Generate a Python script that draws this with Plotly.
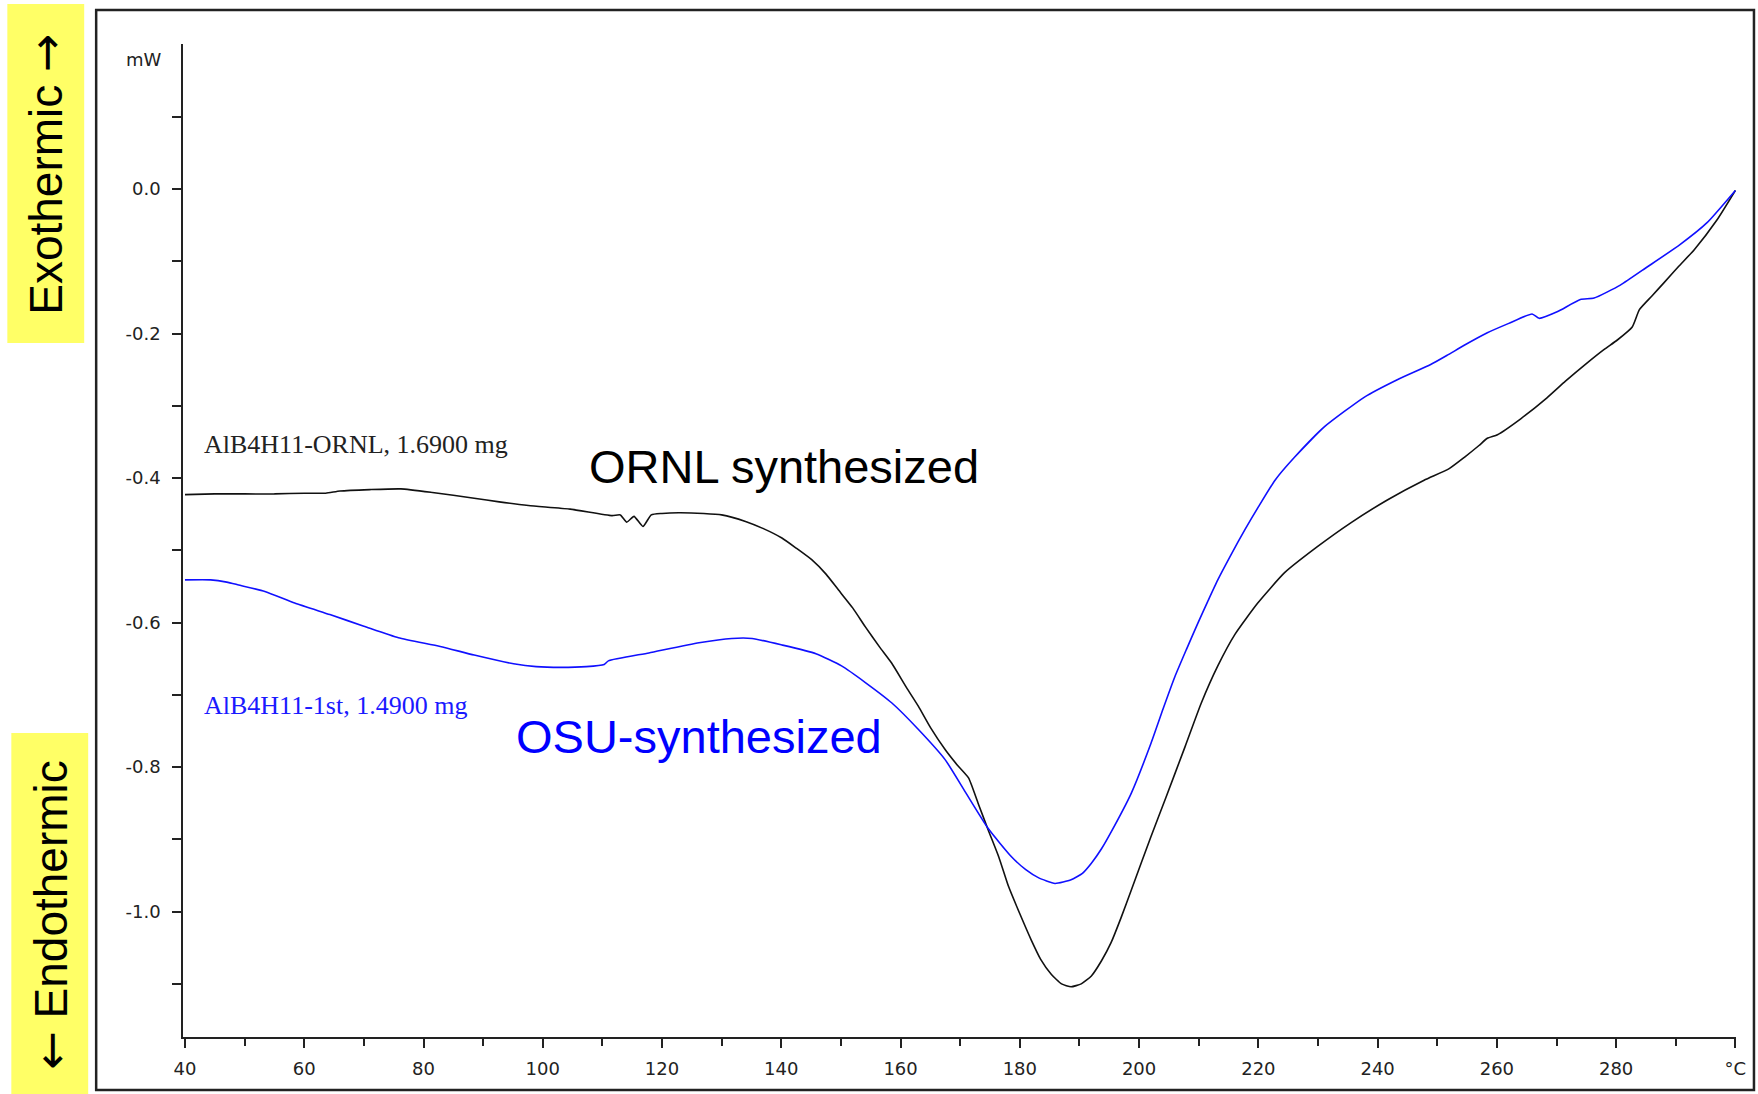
import plotly.graph_objects as go

# DSC heat-flow traces (temperature in °C, heat flow in mW)
ornl_temp = [40, 45, 50, 55, 60, 63.6, 66, 71, 76.2, 81.5, 88.5, 92.7, 97.6, 104.6,
             111.6, 113.0, 114.1, 115.3, 116.8, 118.2, 120, 122.8, 127, 130, 134, 137,
             140.1, 142.5, 145.1, 147.5, 149.6, 152, 154.1, 156.5, 158.5, 161, 163, 165,
             167.5, 169.5, 171.4, 173, 174.7, 176.5, 178.1, 180, 181.9, 183.5, 185.3,
             187, 188.6, 190.3, 192, 193.7, 195.3, 197, 198.7, 202, 204.5, 207.7, 210.4,
             213.2, 216.1, 219.9, 224.4, 229.9, 235.5, 241.7, 247.8, 252,
             254.6, 257, 258.4, 260.1, 264, 268.4, 271.5, 275.1, 278, 280.2, 282.7,
             283.9, 286, 288, 290.5, 293.1, 296.9, 300]
ornl_mw = [-0.423, -0.422, -0.422, -0.422, -0.421, -0.421, -0.418, -0.416, -0.415,
           -0.420, -0.428, -0.433, -0.438, -0.443, -0.452, -0.451, -0.461, -0.453,
           -0.467, -0.451, -0.449, -0.448, -0.449, -0.451, -0.460, -0.470, -0.483,
           -0.497, -0.513, -0.533, -0.555, -0.580, -0.606, -0.634, -0.656, -0.690,
           -0.716, -0.745, -0.776, -0.797, -0.815, -0.850, -0.887, -0.925, -0.965,
           -1.003, -1.039, -1.066, -1.087, -1.100, -1.104, -1.100, -1.089, -1.068,
           -1.043, -1.008, -0.970, -0.896, -0.842, -0.772, -0.712, -0.660, -0.616,
           -0.573, -0.531, -0.495, -0.462, -0.430, -0.403, -0.387,
           -0.371, -0.355, -0.345, -0.340, -0.318, -0.289, -0.266, -0.241,
           -0.222, -0.209, -0.191, -0.167, -0.148, -0.130, -0.107, -0.084, -0.043,
           -0.002]

osu_temp = [40, 44.3, 47, 49, 53.4, 58.4, 64.3, 70, 75.8, 82.8, 88.5, 95.1, 98.9, 103,
            107.3, 110.3, 111, 117.8, 126.2, 131.7, 135.1, 140.1, 145.8, 150.1, 154.1,
            158.5, 163, 167.5, 170.9, 174.7, 178.6, 181, 183.1, 185.9, 188.6, 190.5,
            192, 193.7, 195.3, 198.7, 202, 204, 206, 208, 209.9, 211.5, 213.2, 215.5,
            217.7, 220, 222.8, 226.1, 231.1, 237.8, 243.3, 248.9, 251.7, 254.6, 258.4,
            262, 265.9, 267.1, 270.1, 274, 276.3, 280.7, 285.2, 290.7, 295.2, 300]
osu_mw = [-0.541, -0.541, -0.544, -0.548, -0.557, -0.573, -0.589, -0.605, -0.621,
          -0.633, -0.645, -0.657, -0.661, -0.662, -0.661, -0.658, -0.653, -0.642,
          -0.628, -0.622, -0.622, -0.631, -0.643, -0.660, -0.683, -0.711, -0.748,
          -0.790, -0.835, -0.885, -0.924, -0.942, -0.953, -0.961, -0.956, -0.947,
          -0.933, -0.913, -0.890, -0.836, -0.767, -0.720, -0.675, -0.636, -0.600,
          -0.571, -0.541, -0.505, -0.472, -0.440, -0.403, -0.371, -0.329, -0.288,
          -0.264, -0.243, -0.230, -0.216, -0.199, -0.186, -0.173, -0.179, -0.170,
          -0.153, -0.151, -0.133, -0.108, -0.077, -0.047, -0.002]

x_ticks = [40, 60, 80, 100, 120, 140, 160, 180, 200, 220, 240, 260, 280, 300]
x_tick_text = ["40", "60", "80", "100", "120", "140", "160", "180", "200", "220",
               "240", "260", "280", "°C"]
y_ticks = [0.1, 0.0, -0.1, -0.2, -0.3, -0.4, -0.5, -0.6, -0.7, -0.8, -0.9, -1.0, -1.1]
y_tick_text = ["", "0.0", "", "-0.2", "", "-0.4", "", "-0.6", "", "-0.8", "", "-1.0", ""]

W, H = 1758, 1094
L, R, T, B = 183, 1739, 44, 1037


def px(x):
    return (x - L) / (R - L)


def py(y):
    return (B - y) / (B - T)


fig = go.Figure()
fig.add_trace(go.Scatter(x=ornl_temp, y=ornl_mw, mode="lines",
                         line=dict(color="#111111", width=1.6, shape="spline",
                                   smoothing=0.5),
                         showlegend=False))
fig.add_trace(go.Scatter(x=osu_temp, y=osu_mw, mode="lines",
                         line=dict(color="#1010ff", width=1.6, shape="spline",
                                   smoothing=0.5),
                         showlegend=False))

tick_font = dict(family="DejaVu Sans", size=18, color="#222222")

fig.update_layout(
    width=W, height=H, autosize=False,
    margin=dict(l=L, r=W - R, t=T, b=H - B, pad=0),
    paper_bgcolor="white", plot_bgcolor="white",
    xaxis=dict(range=[39.67, 300.1], showgrid=False, zeroline=False,
               showline=True, linecolor="#222222", linewidth=1.6,
               ticks="outside", ticklen=9, tickwidth=1.5, tickcolor="#222222",
               tickvals=x_ticks, ticktext=x_tick_text, tickfont=tick_font,
               ticklabelstandoff=6,
               minor=dict(dtick=10, tick0=40, ticks="outside", ticklen=7,
                          tickwidth=1.5, tickcolor="#222222")),
    yaxis=dict(range=[-1.1735, 0.2006], showgrid=False, zeroline=False,
               showline=True, linecolor="#222222", linewidth=1.6,
               ticks="outside", ticklen=9, tickwidth=1.5, tickcolor="#222222",
               tickvals=y_ticks, ticktext=y_tick_text, tickfont=tick_font,
               ticklabelstandoff=8),
)

shapes = [
    # outer frame
    dict(type="rect", xref="paper", yref="paper", x0=px(96), x1=px(1757),
         y0=py(1090), y1=py(10), line=dict(color="#222222", width=2.5),
         fillcolor="rgba(0,0,0,0)", layer="below"),
    # yellow side boxes
    dict(type="rect", xref="paper", yref="paper", x0=px(7), x1=px(84),
         y0=py(343), y1=py(4), line=dict(width=0), fillcolor="#ffff66"),
    dict(type="rect", xref="paper", yref="paper", x0=px(11), x1=px(88),
         y0=py(1094), y1=py(733), line=dict(width=0), fillcolor="#ffff66"),
]
fig.update_layout(shapes=shapes)

arrow_style = "font-family:'DejaVu Sans'"
annotations = [
    dict(text="mW", xref="paper", yref="y", x=px(164), y=0.1785,
         xanchor="right", yanchor="middle", showarrow=False,
         font=dict(family="DejaVu Sans", size=18, color="#222222")),
    dict(text="AlB4H11-ORNL, 1.6900 mg", xref="x", yref="y", x=42.85, y=-0.353,
         xanchor="left", yanchor="middle", showarrow=False,
         font=dict(family="Liberation Serif", size=26, color="#222222")),
    dict(text="AlB4H11-1st, 1.4900 mg", xref="x", yref="y", x=42.85, y=-0.715,
         xanchor="left", yanchor="middle", showarrow=False,
         font=dict(family="Liberation Serif", size=26, color="#1a1aff")),
    dict(text="ORNL synthesized", xref="x", yref="y", x=107.4, y=-0.384,
         xanchor="left", yanchor="middle", showarrow=False,
         font=dict(family="Liberation Sans", size=47, color="black")),
    dict(text="OSU-synthesized", xref="x", yref="y", x=95.2, y=-0.758,
         xanchor="left", yanchor="middle", showarrow=False,
         font=dict(family="Liberation Sans", size=47, color="#0000ff")),
    dict(text=f"Exothermic <span style=\"{arrow_style}\">→</span>",
         xref="paper", yref="paper", x=px(45.5), y=py(174),
         xanchor="center", yanchor="middle", textangle=-90, showarrow=False,
         font=dict(family="Liberation Sans", size=46, color="black")),
    dict(text=f"<span style=\"{arrow_style}\">←</span> Endothermic",
         xref="paper", yref="paper", x=px(50), y=py(914.5),
         xanchor="center", yanchor="middle", textangle=-90, showarrow=False,
         font=dict(family="Liberation Sans", size=46, color="black")),
]
fig.update_layout(annotations=annotations)

fig.write_html("out.html")
